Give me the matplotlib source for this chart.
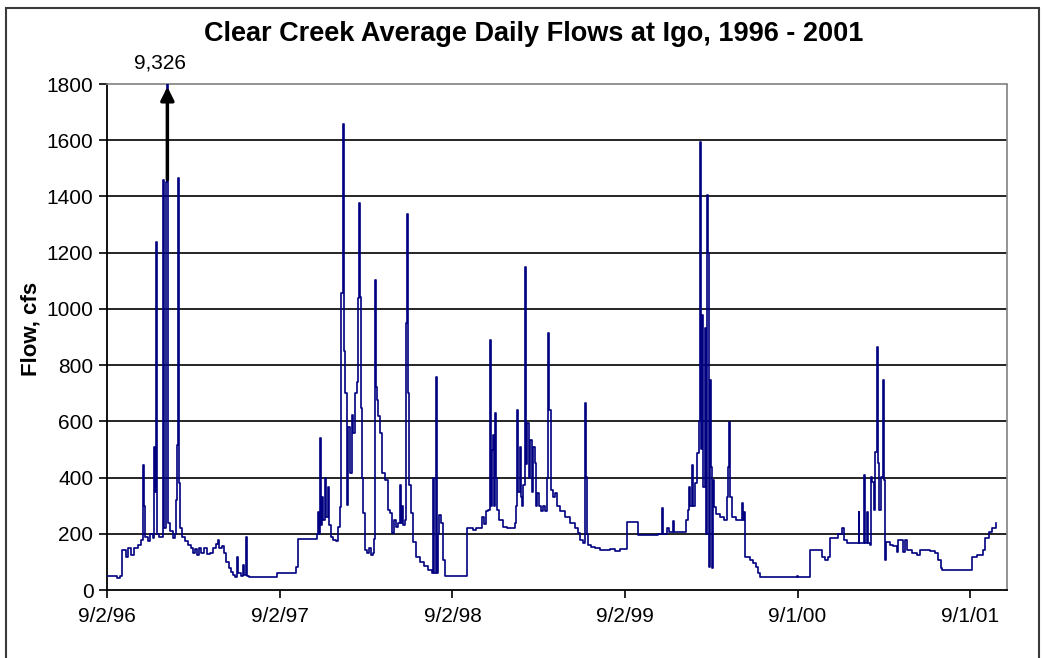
import matplotlib
matplotlib.use("Agg")
from matplotlib import pyplot as plt
from matplotlib.patches import Rectangle
import numpy as np
import pandas as pd

plt.rcParams['font.family'] = ['Liberation Sans', 'DejaVu Sans']

# --- data (days after 9/2/96, average daily flow in cfs) ---
START_DATE = "1996-09-02"
day_offset = [
    0, 21, 27, 31, 40, 44, 50, 56, 65, 71, 76, 78, 80, 86, 90, 97, 99, 101, 103, 105,
    109, 118, 120, 124, 126, 128, 133, 139, 143, 145, 147, 150, 152, 154, 158, 164, 171, 177, 181, 186,
    190, 194, 198, 205, 211, 217, 224, 230, 234, 236, 243, 247, 251, 258, 262, 266, 270, 274, 277, 283,
    287, 289, 293, 296, 300, 359, 399, 404, 444, 446, 448, 450, 452, 454, 456, 461, 463, 467, 469, 473,
    478, 484, 488, 492, 495, 499, 501, 503, 507, 509, 514, 518, 520, 524, 528, 530, 533, 535, 537, 539,
    541, 545, 550, 554, 558, 562, 564, 566, 569, 571, 573, 577, 581, 588, 594, 598, 602, 607, 611, 615,
    619, 621, 624, 626, 630, 632, 634, 636, 638, 643, 647, 653, 662, 670, 679, 687, 689, 691, 696, 698,
    700, 702, 706, 710, 715, 761, 774, 780, 793, 797, 801, 806, 810, 812, 814, 816, 818, 820, 823, 825,
    829, 837, 846, 863, 865, 867, 869, 873, 875, 878, 880, 884, 886, 888, 892, 894, 899, 901, 905, 907,
    909, 913, 918, 922, 926, 930, 933, 935, 939, 943, 947, 952, 958, 968, 979, 990, 996, 1000, 1007, 1011,
    1013, 1015, 1017, 1024, 1032, 1043, 1064, 1074, 1085, 1100, 1123, 1165, 1174, 1176, 1184, 1189, 1197, 1199, 1222, 1225,
    1229, 1231, 1233, 1237, 1239, 1244, 1248, 1252, 1254, 1256, 1258, 1260, 1265, 1267, 1269, 1271, 1273, 1275, 1277, 1280,
    1282, 1284, 1288, 1296, 1305, 1311, 1313, 1315, 1318, 1322, 1330, 1343, 1345, 1347, 1349, 1360, 1366, 1373, 1377, 1381,
    1459, 1461, 1487, 1512, 1519, 1525, 1529, 1546, 1555, 1559, 1565, 1589, 1591, 1601, 1603, 1607, 1610, 1614, 1616, 1618,
    1622, 1624, 1629, 1631, 1633, 1637, 1641, 1643, 1646, 1648, 1656, 1662, 1671, 1673, 1682, 1688, 1692, 1703, 1713, 1720,
    1741, 1751, 1758, 1764, 1766, 1830, 1840, 1853, 1857, 1864, 1872, 1880,
]
flow_cfs = [
    50, 43, 50, 142, 117, 150, 125, 150, 160, 178, 445, 300, 190, 175, 200, 185, 509, 350, 1238, 200,
    190, 1459, 220, 1450, 9326, 240, 210, 185, 200, 320, 516, 1466, 380, 220, 190, 175, 160, 150, 130, 145,
    125, 150, 130, 150, 128, 130, 150, 165, 178, 150, 155, 130, 100, 80, 65, 55, 46, 117, 60, 50,
    90, 55, 188, 50, 46, 60, 82, 181, 200, 277, 200, 540, 230, 330, 250, 400, 260, 366, 230, 190,
    178, 175, 224, 295, 1057, 1658, 850, 700, 302, 580, 416, 622, 558, 700, 740, 1040, 1377, 1042, 647, 400,
    274, 142, 131, 150, 125, 131, 180, 1103, 722, 675, 620, 560, 416, 391, 285, 274, 203, 250, 225, 240,
    373, 240, 300, 230, 250, 950, 1338, 700, 373, 274, 171, 117, 100, 85, 70, 60, 400, 60, 758, 60,
    200, 267, 238, 107, 50, 221, 215, 220, 260, 235, 280, 285, 889, 300, 498, 551, 300, 630, 400, 285,
    250, 225, 220, 238, 300, 640, 350, 509, 330, 300, 373, 1149, 450, 594, 400, 534, 350, 509, 452, 300,
    345, 300, 280, 300, 280, 400, 914, 640, 356, 330, 345, 300, 280, 260, 240, 220, 203, 178, 167, 665,
    402, 200, 160, 153, 148, 142, 145, 140, 145, 242, 196, 200, 292, 200, 221, 206, 245, 206, 206, 250,
    285, 366, 300, 445, 300, 380, 487, 600, 1594, 500, 978, 366, 932, 200, 1405, 1199, 82, 747, 438, 78,
    391, 295, 270, 260, 250, 331, 438, 598, 331, 260, 250, 310, 250, 277, 117, 107, 95, 82, 60, 46,
    50, 46, 142, 117, 107, 117, 185, 200, 221, 178, 167, 277, 167, 409, 167, 277, 167, 160, 402, 384,
    285, 491, 864, 452, 285, 402, 747, 391, 107, 171, 160, 155, 135, 178, 135, 178, 142, 131, 124, 142,
    138, 130, 107, 78, 71, 117, 125, 142, 185, 206, 221, 238,
]
tick_dates = ["1996-09-02", "1997-09-02", "1998-09-02", "1999-09-02", "2000-09-01", "2001-09-01"]
axis_days = 1903
y_ticks = list(range(0, 1801, 200))
peak_label = "9,326"

TITLE = "Clear Creek Average Daily Flows at Igo, 1996 - 2001"
YLABEL = "Flow, cfs"

#--------------------------------------------------------------------------------------------------
start = pd.Timestamp(START_DATE)
dates = start + pd.to_timedelta(day_offset, unit="D")
flows = np.array(flow_cfs, dtype=float)
ticks = pd.to_datetime(tick_dates)
tick_labels = [f"{d.month}/{d.day}/{d.year % 100:02d}" for d in ticks]

fig = plt.figure(figsize=(10.42, 6.58), dpi=100)
ax = fig.add_axes([0.103, 0.1033, 0.8634, 0.769])

# outer chart frame
fig.patches.append(Rectangle((0.006, -0.01), 0.991, 0.998, transform=fig.transFigure,
                             fill=False, edgecolor="#3a3a3a", linewidth=1.5))

for yv in y_ticks[1:-1]:
    ax.axhline(yv, color="black", linewidth=1.2, zorder=1)

ax.plot(dates, flows, drawstyle="steps-post", color="#000080", linewidth=1.2, zorder=3)

ax.set_xlim(start, start + pd.Timedelta(days=axis_days))
ax.set_ylim(0, 1800)
ax.set_yticks(y_ticks)
ax.set_yticklabels([str(v) for v in y_ticks], fontsize=15)
ax.set_xticks(ticks)
ax.set_xticklabels(tick_labels, fontsize=15)
ax.tick_params(axis="both", direction="out", length=6, width=1.2, color="black")
ax.tick_params(axis="x", pad=6)
ax.tick_params(axis="y", pad=4)

for side in ("left", "bottom"):
    ax.spines[side].set_color("black")
    ax.spines[side].set_linewidth(1.3)
for side in ("top", "right"):
    ax.spines[side].set_color("#808080")
    ax.spines[side].set_linestyle((0, (1, 1)))
    ax.spines[side].set_linewidth(1.2)

# the peak runs off the scale: arrow and value label
peak_i = int(np.argmax(flows))
peak_date = dates[peak_i] + pd.Timedelta(days=1)
ax.annotate("", xy=(peak_date, 1800), xytext=(peak_date, 1450),
            arrowprops=dict(arrowstyle="-|>", color="black", lw=2.5, mutation_scale=20),
            annotation_clip=False, zorder=4)
ax.text(peak_date - pd.Timedelta(days=15), 1840, peak_label, ha="center", va="bottom",
        fontsize=15, clip_on=False)

fig.text(0.512, 0.949, TITLE, ha="center", va="center", fontsize=19.5, fontweight="bold")
fig.text(0.03, 0.5, YLABEL, ha="center", va="center", rotation=90, fontsize=16, fontweight="bold")

fig.savefig("out.png", dpi=100)
